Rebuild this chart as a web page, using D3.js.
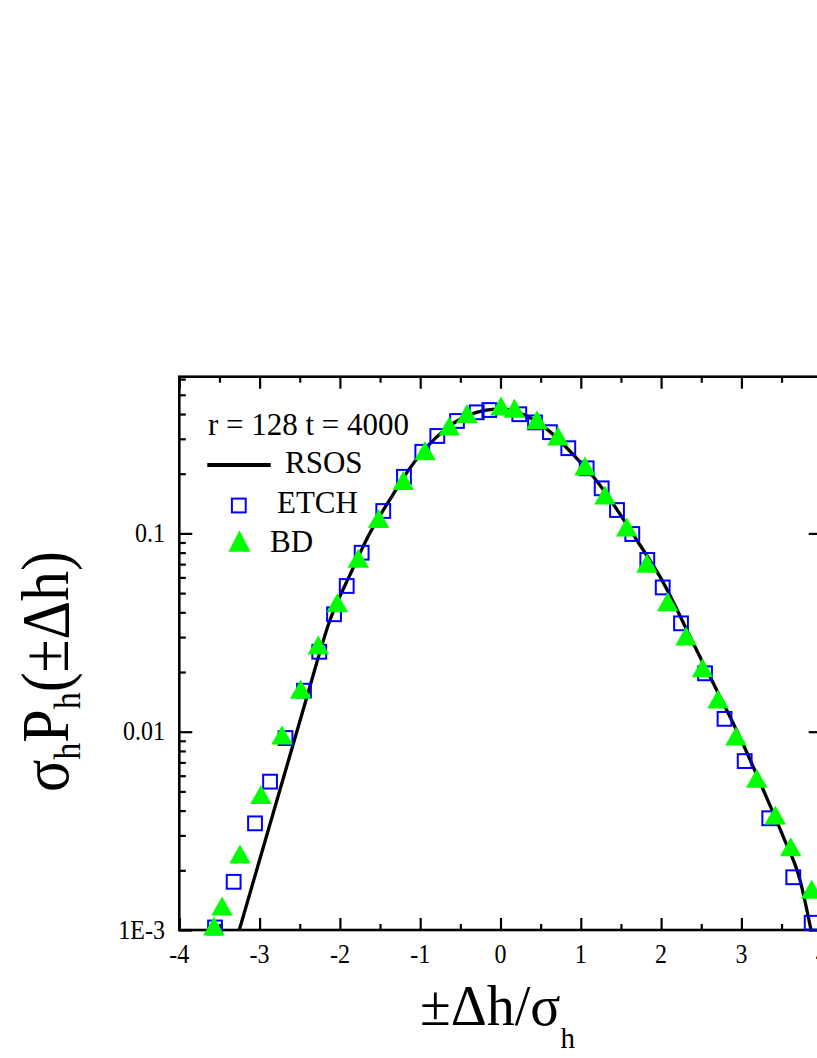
<!DOCTYPE html>
<html><head><meta charset="utf-8">
<script src="https://cdn.jsdelivr.net/npm/d3@7"></script>
<style>body{margin:0;background:#fff}svg{display:block}</style>
</head><body><svg id="c" width="817" height="1058" font-family="Liberation Serif, Times New Roman, serif"></svg>
<script>
// ---- data ----
const xTicks = [-4,-3,-2,-1,0,1,2,3,4];
const xTickLabels = ["-4","-3","-2","-1","0","1","2","3","4"];
const xMinorTicks = [-3.5,-2.5,-1.5,-0.5,0.5,1.5,2.5,3.5];
const yTicks = [0.001,0.01,0.1];
const yTickLabels = ["1E-3","0.01","0.1"];
const legendLabels = ["r = 128 t = 4000","RSOS","ETCH","BD"];

const etchX = [-3.555,-3.323,-3.057,-2.870,-2.677,-2.447,-2.257,-2.073,-1.915,-1.729,-1.460,-1.202,-0.974,-0.787,-0.542,-0.296,-0.139,0.234,0.430,0.616,0.844,1.073,1.260,1.451,1.641,1.828,2.020,2.248,2.547,2.790,3.041,3.347,3.646,3.875];
const etchY = [0.00103,0.00175,0.00345,0.0056,0.00929,0.0161,0.0253,0.0391,0.0543,0.0799,0.1297,0.193,0.258,0.310,0.369,0.408,0.419,0.399,0.363,0.324,0.269,0.213,0.1688,0.1312,0.0993,0.0735,0.0534,0.0352,0.0197,0.01161,0.00711,0.00366,0.001845,0.001088];

const bdX = [-3.568,-3.468,-3.244,-2.983,-2.721,-2.488,-2.269,-2.032,-1.771,-1.517,-1.210,-0.940,-0.638,-0.417,0.006,0.174,0.455,0.716,1.052,1.301,1.572,1.824,2.082,2.310,2.516,2.709,2.933,3.191,3.422,3.614,3.875];
const bdY = [0.001047,0.001321,0.002415,0.00483,0.00962,0.01637,0.02735,0.0447,0.0749,0.119,0.1848,0.261,0.348,0.403,0.439,0.428,0.3745,0.310,0.219,0.156,0.1077,0.0707,0.0452,0.0304,0.0210,0.01462,0.00951,0.00582,0.0038,0.00263,0.001604];

const rsosX = [-3.253,-2.422,-2.123,-1.853,-1.646,-1.335,-1.148,-0.8,-0.4,0,0.3,0.6,0.949,1.156,1.737,1.986,2.422,2.650,3.016,3.273,3.522,3.730,3.867];
const rsosY = [0.001,0.01445,0.0366,0.0645,0.097,0.158,0.208,0.305,0.395,0.425,0.395,0.33,0.239,0.193,0.0874,0.0605,0.0268,0.01754,0.00874,0.00508,0.00295,0.001786,0.001];

// ---- layout ----
const L = 179.3, R = 821.7, T = 376.7, B = 930;
const svg = d3.select("#c");
const x = d3.scaleLinear().domain([-4,4]).range([L,R]);
const y = d3.scaleLog().domain([0.001,0.617]).range([B,T]);
const blue = "#0000ff", green = "#00ff00";
const FONT = "Liberation Serif, Times New Roman, serif";

svg.append("defs").append("clipPath").attr("id","clip")
  .append("rect").attr("x",L).attr("y",T).attr("width",R-L).attr("height",B-T);

const yMinor = [];
[0.001,0.01,0.1].forEach(d=>{ for(let k=2;k<=9;k++){ const v=d*k; if(v<=0.617) yMinor.push(v);} });

function styleAxis(g){
  g.selectAll("path").remove();
  g.selectAll("text").remove();
  g.selectAll("line").attr("stroke","#000").attr("stroke-width",2.2);
}
const noLab = ()=> "";
svg.append("g").attr("transform",`translate(0,${B})`)
  .call(d3.axisBottom(x).tickValues(xTicks).tickSize(-12).tickSizeOuter(0).tickFormat(noLab)).call(styleAxis);
svg.append("g").attr("transform",`translate(0,${B})`)
  .call(d3.axisBottom(x).tickValues(xMinorTicks).tickSize(-6).tickSizeOuter(0).tickFormat(noLab)).call(styleAxis);
svg.append("g").attr("transform",`translate(0,${T})`)
  .call(d3.axisTop(x).tickValues(xTicks).tickSize(-12).tickSizeOuter(0).tickFormat(noLab)).call(styleAxis);
svg.append("g").attr("transform",`translate(0,${T})`)
  .call(d3.axisTop(x).tickValues(xMinorTicks).tickSize(-6).tickSizeOuter(0).tickFormat(noLab)).call(styleAxis);
svg.append("g").attr("transform",`translate(${L},0)`)
  .call(d3.axisLeft(y).tickValues(yTicks).tickSize(-13).tickSizeOuter(0).tickFormat(noLab)).call(styleAxis);
svg.append("g").attr("transform",`translate(${L},0)`)
  .call(d3.axisLeft(y).tickValues(yMinor).tickSize(-6.5).tickSizeOuter(0).tickFormat(noLab)).call(styleAxis);
svg.append("g").attr("transform",`translate(${R},0)`)
  .call(d3.axisRight(y).tickValues(yTicks).tickSize(-13).tickSizeOuter(0).tickFormat(noLab)).call(styleAxis);

// tick labels (slightly tall glyphs as in the reference)
svg.append("g").selectAll("text").data(xTicks).join("text")
  .attr("transform",d=>`translate(${x(d)},963) scale(1,1.1)`)
  .attr("text-anchor","middle").attr("font-size",24).attr("font-family",FONT)
  .text((d,i)=>xTickLabels[i]);
svg.append("g").selectAll("text").data(yTicks).join("text")
  .attr("transform",d=>`translate(165,${y(d)+8.6}) scale(1,1.12)`)
  .attr("text-anchor","end").attr("font-size",24).attr("font-family",FONT)
  .text((d,i)=>yTickLabels[i]);

// frame
svg.append("rect").attr("x",L).attr("y",T).attr("width",R-L).attr("height",B-T)
  .attr("fill","none").attr("stroke","#000").attr("stroke-width",2.6);

const plot = svg.append("g").attr("clip-path","url(#clip)");
const line = d3.line().x(d=>x(d[0])).y(d=>y(d[1])).curve(d3.curveMonotoneX);
plot.append("path").datum(rsosX.map((v,i)=>[v,rsosY[i]]))
  .attr("d",line).attr("fill","none").attr("stroke","#000").attr("stroke-width",3.3);

const sq = 13.8;
svg.append("g").selectAll("rect").data(etchX.map((v,i)=>[v,etchY[i]])).join("rect")
  .attr("x",d=>x(d[0])-sq/2).attr("y",d=>y(d[1])-sq/2).attr("width",sq).attr("height",sq)
  .attr("fill","none").attr("stroke",blue).attr("stroke-width",2);

const tw = 21.5, th = 19;
const tri = `M0,${-th/2}L${tw/2},${th/2}L${-tw/2},${th/2}Z`;
svg.append("g").selectAll("path").data(bdX.map((v,i)=>[v,bdY[i]])).join("path")
  .attr("transform",d=>`translate(${x(d[0])},${y(d[1])})`).attr("d",tri).attr("fill",green);

// legend
const lg = svg.append("g").attr("font-size",31).attr("font-family",FONT);
lg.append("text").attr("transform","translate(208,435) scale(1,1.05)").text(legendLabels[0]);
lg.append("line").attr("x1",207.3).attr("x2",270.7).attr("y1",465).attr("y2",465).attr("stroke","#000").attr("stroke-width",4);
lg.append("text").attr("transform","translate(285,473) scale(1,1.05)").text(legendLabels[1]);
lg.append("rect").attr("x",238.8-sq/2).attr("y",505.5-sq/2).attr("width",sq).attr("height",sq).attr("fill","none").attr("stroke",blue).attr("stroke-width",2);
lg.append("text").attr("transform","translate(277,512.5) scale(1,1.05)").text(legendLabels[2]);
lg.append("path").attr("transform","translate(239.5,541)").attr("d",`M0,-10.8L11,10.8L-11,10.8Z`).attr("fill",green);
lg.append("text").attr("transform","translate(270,551.5) scale(1,1.05)").text(legendLabels[3]);

// axis titles
const xt = svg.append("text").attr("x",420).attr("y",1025).attr("font-size",56).attr("font-family",FONT);
xt.append("tspan").text("±Δh/σ");
xt.append("tspan").attr("font-size",29).attr("dy",23).text("h");

const yt = svg.append("text").attr("transform","translate(68,671.5) rotate(-90) scale(1,1.12)")
  .attr("text-anchor","middle").attr("font-size",60).attr("font-family",FONT);
yt.append("tspan").text("σ");
yt.append("tspan").attr("font-size",34).attr("dy",11).text("h");
yt.append("tspan").attr("dy",-11).text("P");
yt.append("tspan").attr("font-size",34).attr("dy",11).text("h");
yt.append("tspan").attr("dy",-11).text("(±Δh)");
</script>
</body></html>
